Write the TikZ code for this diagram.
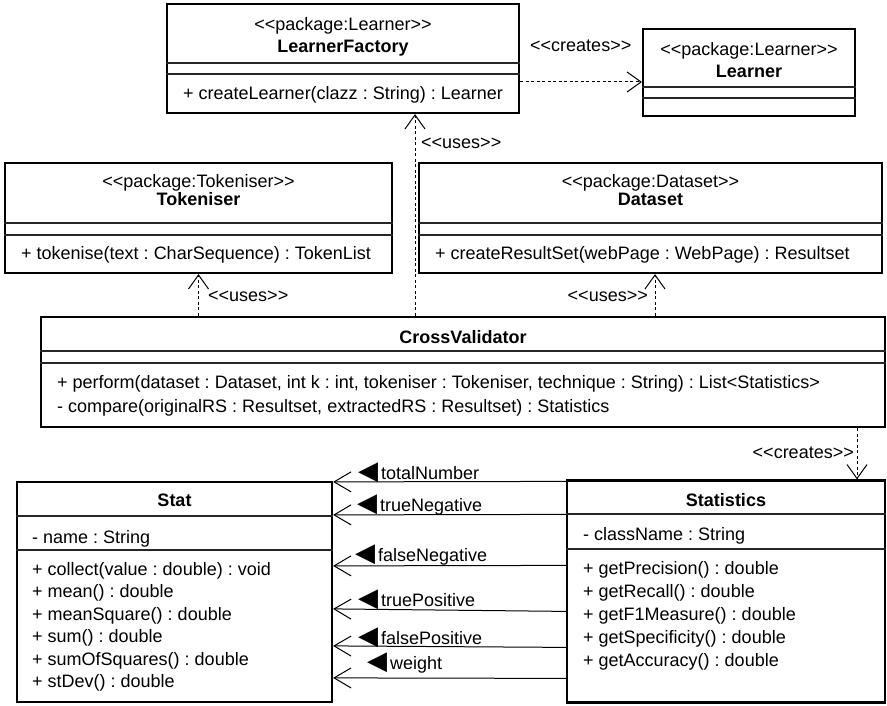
\documentclass[tikz,border=0pt]{standalone}
\usepackage{fontspec}
\setmainfont{Liberation Sans}
\newfontfamily\symfont{DejaVu Sans}
\usetikzlibrary{arrows.meta}

% filled direction triangle in front of a role name
\newcommand{\dirtri}{{\symfont\fontsize{26}{26}\selectfont\char"25C0}\hspace{3pt}}

\begin{document}
\frenchspacing
\begin{tikzpicture}[
    x=1pt, y=1pt,
    font=\fontsize{18}{23}\selectfont,
    classbox/.style={
        rectangle, draw=black, line width=2.2pt, inner sep=0pt, fill=white
    },
    divider/.style={line width=1.2pt, draw=black!85},
    stereo/.style={inner sep=0pt, anchor=base},
    cname/.style={inner sep=0pt, anchor=base, font=\fontsize{18}{23}\selectfont\bfseries},
    member/.style={inner sep=0pt, anchor=base west},
    rolename/.style={inner sep=0pt, anchor=base west},
    depline/.style={-{Straight Barb[length=14pt,width=20pt]}, line width=1pt,
        dash pattern=on 3pt off 2.5pt},
    assoc/.style={-{Straight Barb[length=17pt,width=20pt]}, line width=1pt},
]
\useasboundingbox (0,0) rectangle (887,-706);

% ── Learner package ──────────────────────────────────────────
\node[classbox, minimum width=352pt, minimum height=109pt] (lf) at (343,-58.5) {};
\draw[divider] (lf.west |- 0,-63) -- (lf.east |- 0,-63);
\draw[divider] (lf.west |- 0,-74) -- (lf.east |- 0,-74);
\node[stereo] (lf-st) at (343,-31) {<{}<package:Learner>{}>};
\node[cname]  (lf-nm) at (343,-53) {LearnerFactory};
\node[member] (lf-op) at (183,-100) {+ createLearner(clazz : String) : Learner};

\node[classbox, minimum width=212pt, minimum height=87pt] (ln) at (749,-72.5) {};
\draw[divider] (ln.west |- 0,-87) -- (ln.east |- 0,-87);
\draw[divider] (ln.west |- 0,-98) -- (ln.east |- 0,-98);
\node[stereo] (ln-st) at (749,-56) {<{}<package:Learner>{}>};
\node[cname]  (ln-nm) at (749,-78) {Learner};

\draw[depline] ([yshift=-23.5pt]lf.east) -- ([yshift=-9.5pt]ln.west);
\node[member] (lbl-cr1) at (530,-52) {<{}<creates>{}>};

% ── Tokeniser / Dataset ──────────────────────────────────────
\node[classbox, minimum width=387pt, minimum height=110pt] (tk) at (198.5,-218) {};
\draw[divider] (tk.west |- 0,-223) -- (tk.east |- 0,-223);
\draw[divider] (tk.west |- 0,-235) -- (tk.east |- 0,-235);
\node[stereo] (tk-st) at (198.5,-188) {<{}<package:Tokeniser>{}>};
\node[cname]  (tk-nm) at (198.5,-206) {Tokeniser};
\node[member] (tk-op) at (21,-259) {+ tokenise(text : CharSequence) : TokenList};

\node[classbox, minimum width=463pt, minimum height=110pt] (ds) at (650.5,-218) {};
\draw[divider] (ds.west |- 0,-223) -- (ds.east |- 0,-223);
\draw[divider] (ds.west |- 0,-235) -- (ds.east |- 0,-235);
\node[stereo] (ds-st) at (650.5,-188) {<{}<package:Dataset>{}>};
\node[cname]  (ds-nm) at (650.5,-206) {Dataset};
\node[member] (ds-op) at (435,-259) {+ createResultSet(webPage : WebPage) : Resultset};

% ── CrossValidator ───────────────────────────────────────────
\node[classbox, minimum width=844pt, minimum height=110pt] (cv) at (463,-372) {};
\draw[divider] (cv.west |- 0,-351) -- (cv.east |- 0,-351);
\draw[divider] (cv.west |- 0,-363) -- (cv.east |- 0,-363);
\node[cname]  (cv-nm) at (463,-343) {CrossValidator};
\node[member] (cv-op1) at (57,-388) {+ perform(dataset : Dataset, int k : int, tokeniser : Tokeniser, technique : String) : List<Statistics>};
\node[member] (cv-op2) at (57,-412) {- compare(originalRS : Resultset, extractedRS : Resultset) : Statistics};

% uses / creates
\draw[depline] ([xshift=-48pt]cv.north) -- ([xshift=-48pt]cv.north |- lf.south);
\node[member] (lbl-us1) at (421,-149) {<{}<uses>{}>};
\draw[depline] (tk.south |- cv.north) -- (tk.south);
\node[member] (lbl-us2) at (208,-301) {<{}<uses>{}>};
\draw[depline] ([xshift=4.5pt]ds.south |- cv.north) -- ([xshift=4.5pt]ds.south);
\node[member, anchor=base east] (lbl-us3) at (648,-301) {<{}<uses>{}>};

% ── Stat / Statistics ────────────────────────────────────────
\node[classbox, minimum width=315pt, minimum height=220pt] (stat) at (174.5,-592) {};
\draw[divider] (stat.west |- 0,-516) -- (stat.east |- 0,-516);
\draw[divider] (stat.west |- 0,-550) -- (stat.east |- 0,-550);
\node[cname]  (stat-nm) at (174.5,-506) {Stat};
\node[member] (stat-at) at (32,-543) {- name : String};
\node[member, align=left, anchor=north west, font=\fontsize{18}{22.5}\selectfont]
    (stat-op) at (32,-562) {+ collect(value : double) : void\\
    + mean() : double\\
    + meanSquare() : double\\
    + sum() : double\\
    + sumOfSquares() : double\\
    + stDev() : double};

\node[classbox, minimum width=318pt, minimum height=222pt] (stc) at (726,-591.5) {};
\draw[divider] (stc.west |- 0,-514) -- (stc.east |- 0,-514);
\draw[divider] (stc.west |- 0,-549) -- (stc.east |- 0,-549);
\node[cname]  (stc-nm) at (726,-506) {Statistics};
\node[member] (stc-at) at (583,-540) {- className : String};
\node[member, align=left, anchor=north west, font=\fontsize{18}{23}\selectfont]
    (stc-op) at (583,-561) {+ getPrecision() : double\\
    + getRecall() : double\\
    + getF1Measure() : double\\
    + getSpecificity() : double\\
    + getAccuracy() : double};

\draw[depline] ([xshift=131pt]stc.north |- cv.south) -- ([xshift=131pt]stc.north);
\node[member, anchor=base east] (lbl-cr2) at (854,-458) {<{}<creates>{}>};

% associations Statistics -> Stat
\draw[assoc] ([yshift=-2pt]stc.north west)   -- ([yshift=-1pt]stat.north east);
\draw[assoc] ([yshift=-35pt]stc.north west)  -- ([yshift=-34pt]stat.north east);
\draw[assoc] ([yshift=-86pt]stc.north west)  -- ([yshift=-85pt]stat.north east);
\draw[assoc] ([yshift=-132pt]stc.north west) -- ([yshift=-128pt]stat.north east);
\draw[assoc] ([yshift=-168pt]stc.north west) -- ([yshift=-165pt]stat.north east);
\draw[assoc] ([yshift=-199pt]stc.north west) -- ([yshift=-197pt]stat.north east);
\node[rolename] (r-tot) at (358,-479) {\dirtri totalNumber};
\node[rolename] (r-tn)  at (357,-511) {\dirtri trueNegative};
\node[rolename] (r-fn)  at (355,-561) {\dirtri falseNegative};
\node[rolename] (r-tp)  at (358,-606) {\dirtri truePositive};
\node[rolename] (r-fp)  at (358,-644) {\dirtri falsePositive};
\node[rolename] (r-w)   at (367,-669) {\dirtri weight};

\end{tikzpicture}
\end{document}
